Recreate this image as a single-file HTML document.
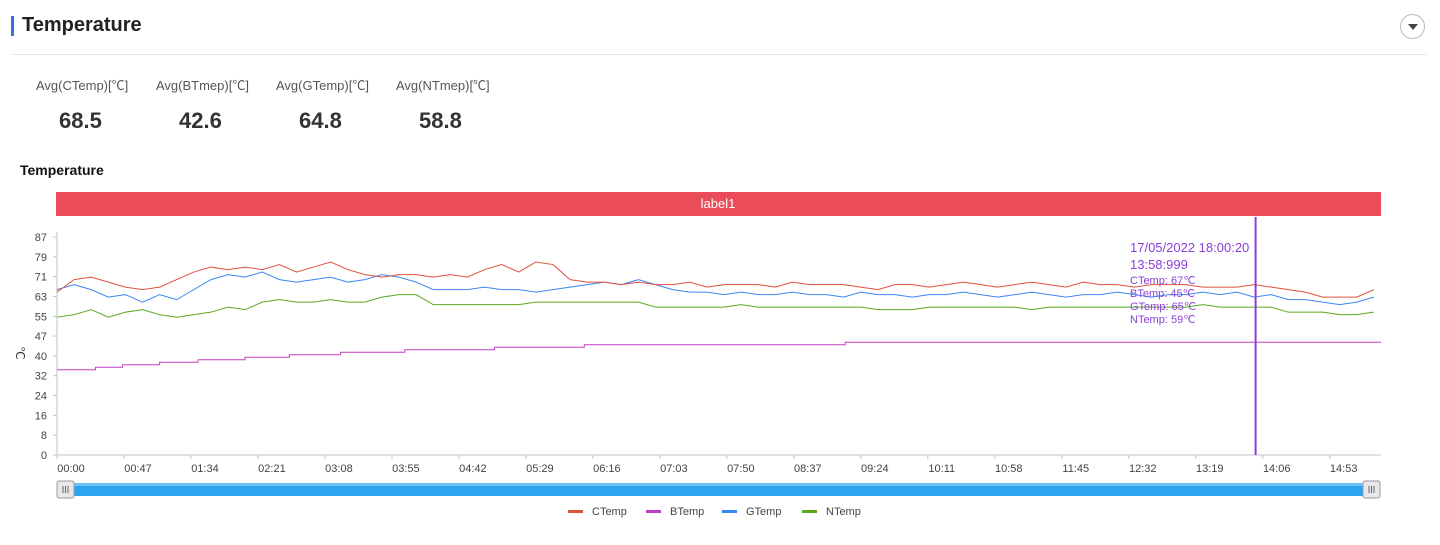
<!DOCTYPE html>
<html><head><meta charset="utf-8">
<style>
html,body{margin:0;padding:0;background:#fff;width:1440px;height:545px;overflow:hidden;font-family:"Liberation Sans","Noto Sans CJK SC",sans-serif;color:#333}
.abs{position:absolute}
</style></head><body>
<div class="abs" style="left:11px;top:16px;width:3px;height:20px;background:#3f6ae8"></div>
<div class="abs" style="left:22px;top:14px;font-size:20px;font-weight:600;color:#222">Temperature</div>
<div class="abs" style="left:1400px;top:14px;width:25px;height:25px;border:1px solid #b8b8c8;border-radius:50%;box-sizing:border-box">
  <div style="position:absolute;left:7px;top:9px;width:0;height:0;border-left:5px solid transparent;border-right:5px solid transparent;border-top:6px solid #444"></div>
</div>
<div class="abs" style="left:11px;top:54px;width:1416px;height:1px;background:#e6e6ee"></div>

<div class="abs" style="left:36px;top:75px;font-size:13px;color:#555">Avg(CTemp)[℃]</div>
<div class="abs" style="left:156px;top:75px;font-size:13px;color:#555">Avg(BTmep)[℃]</div>
<div class="abs" style="left:276px;top:75px;font-size:13px;color:#555">Avg(GTemp)[℃]</div>
<div class="abs" style="left:396px;top:75px;font-size:13px;color:#555">Avg(NTmep)[℃]</div>
<div class="abs" style="left:59px;top:108px;font-size:22px;font-weight:bold;color:#333">68.5</div>
<div class="abs" style="left:179px;top:108px;font-size:22px;font-weight:bold;color:#333">42.6</div>
<div class="abs" style="left:299px;top:108px;font-size:22px;font-weight:bold;color:#333">64.8</div>
<div class="abs" style="left:419px;top:108px;font-size:22px;font-weight:bold;color:#333">58.8</div>

<div class="abs" style="left:20px;top:162px;font-size:14px;font-weight:bold;color:#111">Temperature</div>

<svg id="chart" class="abs" style="left:0;top:0" width="1440" height="545" font-family="Liberation Sans, sans-serif"></svg>

<script>
const yTicks=[0,8,16,24,32,40,47,55,63,71,79,87];
const xTickLabels=["00:00","00:47","01:34","02:21","03:08","03:55","04:42","05:29","06:16","07:03","07:50","08:37","09:24","10:11","10:58","11:45","12:32","13:19","14:06","14:53"];
const sampleStepMin=12;
const cTemp=[65,70,71,69,67,66,67,70,73,75,74,75,74,76,73,75,77,74,72,71,72,72,71,72,71,74,76,73,77,76,70,69,69,68,69,68,68,69,67,68,68,68,67,69,68,68,68,67,66,68,68,67,68,69,68,67,68,69,68,67,69,68,68,67,68,68,68,67,67,67,68,67,66,65,63,63,63,66];
const gTemp=[66,68,66,63,64,61,64,62,66,70,72,71,73,70,69,70,71,69,70,72,71,69,66,66,66,67,66,66,65,66,67,68,69,68,70,68,66,65,65,64,65,64,64,65,64,64,63,65,64,64,63,64,64,65,64,63,64,65,64,63,64,64,65,64,63,64,64,65,64,65,63,64,62,62,61,60,61,63];
const nTemp=[55,56,58,55,57,58,56,55,56,57,59,58,61,62,61,61,62,61,61,63,64,64,60,60,60,60,60,60,61,61,61,61,61,61,61,59,59,59,59,59,60,59,59,59,59,59,59,59,58,58,58,59,59,59,59,59,59,58,59,59,59,59,59,59,59,59,59,60,59,59,59,59,57,57,57,56,56,57];
const bStepTimes=[0,27,46,72,99,132,163,199,244,307,370,553];
const bStepValues=[34,35,36,37,38,39,40,41,42,43,44,45];
const cursorMin=841;
const tooltipLines=["CTemp: 67℃","BTemp: 45℃","GTemp: 65℃","NTemp: 59℃"];

const X0=57,X1=1381,Y0=455,Y1=237,TMAX=929,YMAX=87;
const xs=m=>X0+m/TMAX*(X1-X0);
const ys=v=>Y0-v/YMAX*(Y0-Y1);
const svg=document.getElementById('chart');
const NS='http://www.w3.org/2000/svg';
function mk(tag,attrs,parent){const e=document.createElementNS(NS,tag);for(const k in attrs)e.setAttribute(k,attrs[k]);(parent||svg).appendChild(e);return e;}

let band=mk('rect',{x:56,y:192,width:1325,height:24,fill:'#ea4c5a'});


let bt=mk('text',{x:718,y:208,fill:'#fff','font-size':13,'text-anchor':'middle'});bt.textContent='label1';



let ya=mk('line',{x1:X0,y1:Y1-5,x2:X0,y2:Y0,stroke:'#bfc3cf'});


let xa=mk('line',{x1:X0,y1:Y0,x2:X1,y2:Y0,stroke:'#bfc3cf'});


yTicks.forEach((v,i)=>{
  const y=Y0-i*(Y0-Y1)/(yTicks.length-1);
  mk('line',{x1:X0-4,y1:y,x2:X0,y2:y,stroke:'#bfc3cf'});
  const t=mk('text',{x:X0-10,y:y+4,'font-size':11,fill:'#444','text-anchor':'end'});t.textContent=v;
  
  
});
let yt=mk('text',{x:0,y:0,'font-size':12,fill:'#333',transform:'translate(16,353) rotate(90)','text-anchor':'middle'});yt.textContent='℃';


xTickLabels.forEach((l,i)=>{
  const x=xs(i*47);
  mk('line',{x1:x,y1:Y0,x2:x,y2:Y0+4,stroke:'#bfc3cf'});
  const t=mk('text',{x:x+14,y:Y0+17,'font-size':11,fill:'#444','text-anchor':'middle'});t.textContent=l;
  
  
});

function series(arr,color,name){
  const pts=arr.map((v,i)=>xs(Math.min(i*sampleStepMin,TMAX))+','+ys(v)).join(' ');
  const p=mk('polyline',{points:pts,fill:'none',stroke:color,'stroke-width':1});
  
  
}
(function(){
  let d='';
  bStepTimes.forEach((t,i)=>{
    const x=xs(t),y=ys(bStepValues[i]);
    d+=(i===0?'M':'L')+x+','+y+' ';
    const nx=i<bStepTimes.length-1?xs(bStepTimes[i+1]):X1;
    d+='L'+nx+','+y+' ';
  });
  const p=mk('path',{d:d,fill:'none',stroke:'#c43fc0','stroke-width':1});
  
  
})();
series(nTemp,'#5aa81e','series-ntemp');
series(gTemp,'#3c85f5','series-gtemp');
series(cTemp,'#e0523f','series-ctemp');

let cl=mk('line',{x1:xs(cursorMin),y1:217,x2:xs(cursorMin),y2:Y0,stroke:'#8a3fd9','stroke-width':2});


let t1=mk('text',{x:1130,y:252,'font-size':13,fill:'#8a3fd9'});t1.textContent='17/05/2022 18:00:20';


let t2=mk('text',{x:1130,y:269,'font-size':13,fill:'#8a3fd9'});t2.textContent='13:58:999';


tooltipLines.forEach((l,i)=>{
  const t=mk('text',{x:1130,y:284+i*13,'font-size':11,fill:'#8a3fd9'});t.textContent=l;
  
  
});

let st=mk('rect',{x:62,y:483,width:1314,height:13,fill:'#2ea3f2',rx:2});


mk('rect',{x:62,y:483,width:1314,height:3,fill:'#6cc2f7'});
[57,1363].forEach((x,i)=>{
  const h=mk('rect',{x:x,y:481,width:17,height:17,fill:'#e8e8ea',stroke:'#9a9aa0',rx:2});
  
  
  for(let k=0;k<3;k++)mk('line',{x1:x+6+k*2.5,y1:486,x2:x+6+k*2.5,y2:493,stroke:'#666'});
});

const legendNames=["CTemp","BTemp","GTemp","NTemp"];
const legendColors=['#e0523f','#c43fc0','#3c85f5','#5aa81e'];
const legendX=[568,646,722,802];
legendNames.forEach((n,i)=>{
  const g=mk('g',{});
  
  
  mk('rect',{x:legendX[i],y:510,width:15,height:3,fill:legendColors[i]},g);
  const t=mk('text',{x:legendX[i]+24,y:515,'font-size':11,fill:'#444'},g);t.textContent=n;
});
</script>
</body></html>
